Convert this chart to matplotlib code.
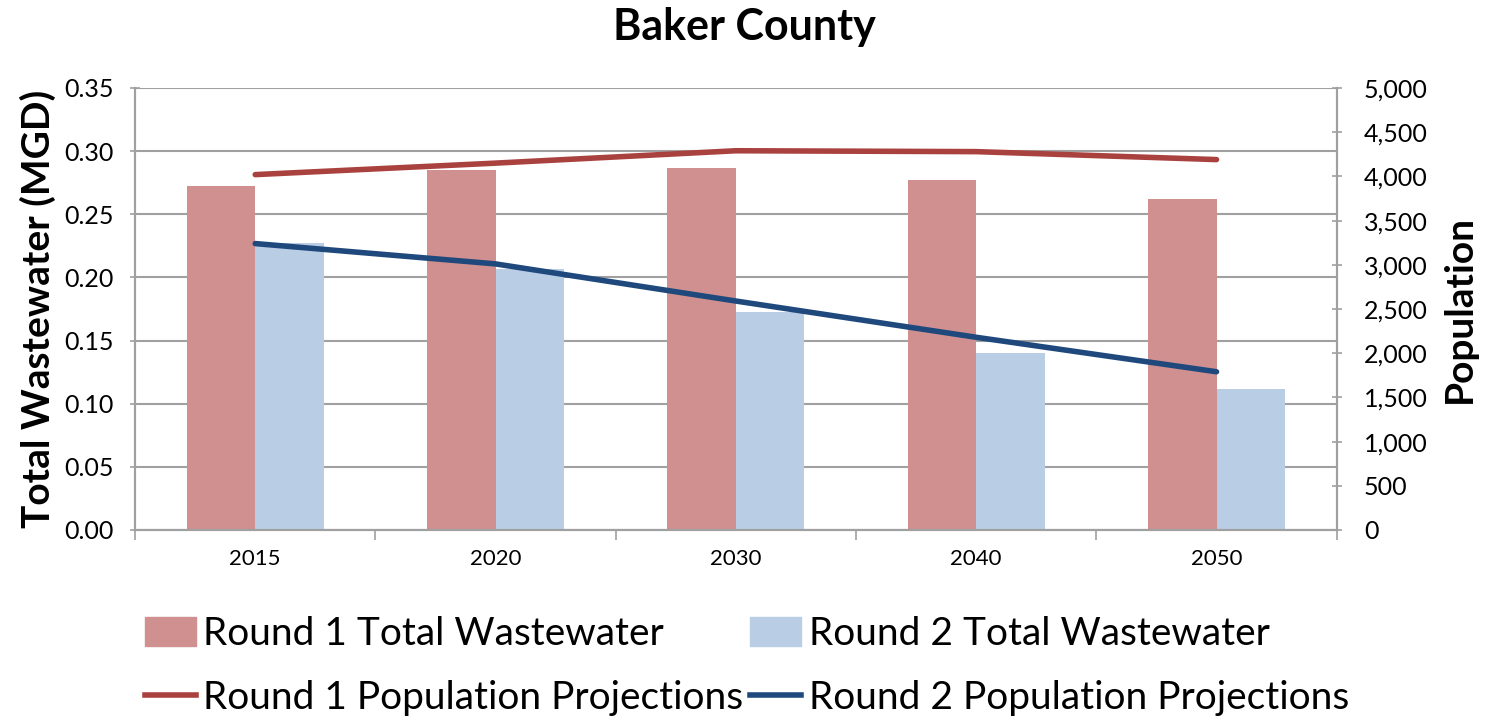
import numpy as np
import matplotlib
matplotlib.use("Agg")
import matplotlib.pyplot as plt
from matplotlib.ticker import FuncFormatter, FixedLocator
from matplotlib.patches import Patch
from matplotlib.lines import Line2D

# chart values
years = ["2015", "2020", "2030", "2040", "2050"]
r1_wastewater = [0.272, 0.285, 0.287, 0.277, 0.262]
r2_wastewater = [0.227, 0.207, 0.173, 0.140, 0.112]
r1_population = [4020, 4150, 4290, 4280, 4190]
r2_population = [3240, 3010, 2590, 2180, 1790]

red_bar = "#D09090"
blue_bar = "#B9CDE5"
red_line = "#A9423F"
blue_line = "#1F497D"
grid_gray = "#A0A0A0"

plt.rcParams['font.family'] = ['Lato', 'DejaVu Sans']

fig = plt.figure(figsize=(14.89, 7.2), dpi=100)
ax = fig.add_axes([0.0907, 0.2639, 0.807, 0.6139])
ax2 = ax.twinx()

x = np.arange(len(years))
w = 0.285
ax.bar(x - w / 2, r1_wastewater, w, color=red_bar, zorder=2)
ax.bar(x + w / 2, r2_wastewater, w, color=blue_bar, zorder=2)

ax2.plot(x, r1_population, color=red_line, lw=4, solid_capstyle='round', zorder=3)
ax2.plot(x, r2_population, color=blue_line, lw=4, solid_capstyle='round', zorder=3)

ax.set_xlim(-0.5, len(years) - 0.5)
ax.set_ylim(0, 0.35)
ax.set_yticks(np.arange(0, 0.351, 0.05))
ax.yaxis.set_major_formatter(FuncFormatter(lambda v, p: f"{v:.2f}"))
ax2.set_ylim(0, 5000)
ax2.set_yticks(np.arange(0, 5001, 500))
ax2.yaxis.set_major_formatter(FuncFormatter(lambda v, p: f"{int(v):,}"))

ax.set_xticks(x)
ax.set_xticklabels(years)
ax.xaxis.set_minor_locator(FixedLocator(np.arange(-0.5, len(years), 1.0)))
ax.tick_params(axis='x', which='major', length=0, labelsize=16, pad=14)
ax.tick_params(axis='x', which='minor', length=7, color=grid_gray, width=1.2, direction='out')
ax.tick_params(axis='y', length=7, color=grid_gray, width=1.2, direction='inout', labelsize=18, pad=12)
ax2.tick_params(axis='y', length=7, color=grid_gray, width=1.2, direction='inout', labelsize=18, pad=16)

ax.grid(axis='y', color=grid_gray, lw=1.5, zorder=0)
ax.set_axisbelow(True)
for a in (ax, ax2):
    a.spines['top'].set_visible(False)
    for s in ('left', 'right', 'bottom'):
        a.spines[s].set_color(grid_gray)
        a.spines[s].set_linewidth(1.5)

ax.set_ylabel("Total Wastewater (MGD)", fontsize=28, fontweight='bold', labelpad=6)
ax2.set_ylabel("Population", fontsize=28, fontweight='bold', labelpad=10)
fig.suptitle("Baker County", fontsize=31, fontweight='bold', y=0.99)

# column-wise order so rows read bars / lines
handles = [
    Patch(color=red_bar, label="Round 1 Total Wastewater"),
    Line2D([], [], color=red_line, lw=4, label="Round 1 Population Projections"),
    Patch(color=blue_bar, label="Round 2 Total Wastewater"),
    Line2D([], [], color=blue_line, lw=4, label="Round 2 Population Projections"),
]
fig.legend(handles=handles, ncol=2, loc='lower left', bbox_to_anchor=(145 / 1489, 0.006),
           frameon=False, fontsize=28, handlelength=1.3, handleheight=0.78,
           handletextpad=0.2, columnspacing=0.18, labelspacing=0.72,
           borderpad=0, borderaxespad=0)

fig.savefig("out.png", dpi=100)
